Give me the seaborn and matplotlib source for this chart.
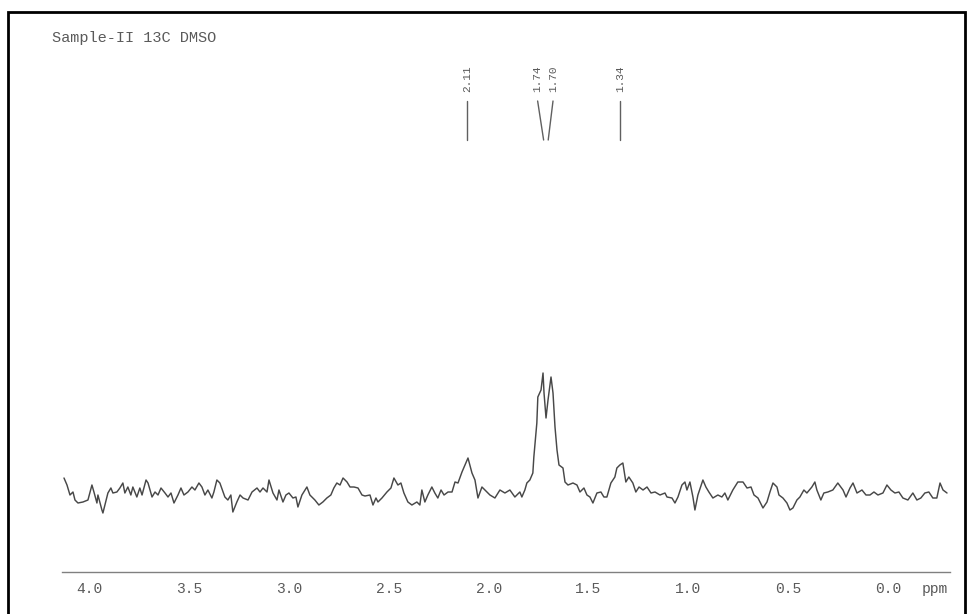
import numpy as np
import pandas as pd
import matplotlib.pyplot as plt
import seaborn as sns
from matplotlib.patches import Rectangle

# Espectro (ppm, intensidade arbitraria)
ppm = [4.128, 4.113, 4.098, 4.083, 4.073, 4.058, 4.033, 4.008, 3.988, 3.978,
       3.963, 3.958, 3.938, 3.933, 3.923, 3.908, 3.893, 3.883, 3.863, 3.848,
       3.833, 3.823, 3.808, 3.793, 3.783, 3.763, 3.748, 3.737, 3.717, 3.707,
       3.687, 3.672, 3.657, 3.642, 3.622, 3.607, 3.592, 3.577, 3.557, 3.542,
       3.527, 3.507, 3.487, 3.472, 3.452, 3.437, 3.422, 3.407, 3.387, 3.377,
       3.362, 3.347, 3.322, 3.307, 3.292, 3.282, 3.262, 3.246, 3.231, 3.206,
       3.186, 3.161, 3.146, 3.131, 3.111, 3.101, 3.081, 3.061, 3.051, 3.031,
       3.016, 3.001, 2.981, 2.966, 2.956, 2.936, 2.911, 2.896, 2.871, 2.851,
       2.831, 2.811, 2.791, 2.776, 2.761, 2.745, 2.730, 2.710, 2.695, 2.675,
       2.655, 2.635, 2.620, 2.595, 2.580, 2.565, 2.555, 2.535, 2.510, 2.490,
       2.475, 2.455, 2.440, 2.425, 2.405, 2.385, 2.360, 2.345, 2.335, 2.320,
       2.305, 2.285, 2.270, 2.255, 2.239, 2.224, 2.204, 2.184, 2.169, 2.154,
       2.134, 2.119, 2.104, 2.084, 2.069, 2.054, 2.034, 2.019, 1.994, 1.969,
       1.944, 1.919, 1.894, 1.869, 1.844, 1.834, 1.819, 1.809, 1.794, 1.779,
       1.774, 1.759, 1.754, 1.738, 1.728, 1.723, 1.713, 1.703, 1.688, 1.678,
       1.668, 1.658, 1.648, 1.628, 1.618, 1.603, 1.578, 1.558, 1.543, 1.523,
       1.508, 1.493, 1.478, 1.458, 1.438, 1.423, 1.408, 1.388, 1.368, 1.358,
       1.343, 1.328, 1.313, 1.298, 1.278, 1.263, 1.247, 1.227, 1.207, 1.187,
       1.167, 1.142, 1.117, 1.107, 1.082, 1.067, 1.052, 1.032, 1.017, 1.007,
       0.992, 0.977, 0.967, 0.952, 0.927, 0.912, 0.897, 0.877, 0.852, 0.832,
       0.817, 0.802, 0.777, 0.752, 0.726, 0.706, 0.686, 0.671, 0.651, 0.626,
       0.606, 0.591, 0.576, 0.556, 0.546, 0.526, 0.506, 0.491, 0.476, 0.456,
       0.441, 0.421, 0.406, 0.381, 0.366, 0.356, 0.336, 0.321, 0.301, 0.276,
       0.251, 0.225, 0.210, 0.190, 0.175, 0.155, 0.130, 0.110, 0.090, 0.070,
       0.050, 0.025, 0.005, -0.015, -0.035, -0.055, -0.075, -0.100, -0.125, -0.145,
       -0.165, -0.185, -0.205, -0.225, -0.245, -0.261, -0.276, -0.296]

intensidade = [22, 15, 5, 8, 0, -3, -2, 0, 15, 8,
               -3, 5, -10, -13, -5, 7, 12, 7, 8, 12,
               17, 7, 13, 5, 13, 3, 12, 5, 20, 17,
               3, 8, 5, 12, 7, 3, 7, -3, 5, 12,
               5, 8, 13, 10, 17, 13, 5, 10, 2, 8,
               20, 17, 3, 0, 5, -12, -2, 5, 2, 0,
               8, 12, 8, 12, 8, 20, 7, 0, 10, -2,
               5, 7, 2, 3, -7, 5, 13, 5, 0, -5,
               -2, 2, 5, 12, 17, 15, 22, 18, 13, 13,
               12, 5, 4, 5, -5, 2, -2, 2, 8, 12,
               22, 15, 17, 7, -2, -5, -2, -5, 10, -2,
               5, 13, 7, 2, 10, 5, 8, 8, 18, 17,
               28, 35, 42, 27, 20, 2, 13, 10, 5, 2,
               10, 7, 10, 3, 8, 3, 10, 17, 20, 27,
               43, 77, 103, 110, 127, 107, 82, 100, 123, 107,
               73, 50, 35, 32, 18, 15, 17, 15, 8, 12,
               5, 3, -3, 7, 8, 3, 3, 17, 23, 32,
               35, 37, 18, 23, 17, 8, 13, 10, 13, 7,
               8, 5, 7, 3, 2, -3, 3, 15, 18, 10,
               18, 3, -10, 5, 20, 13, 8, 2, 5, 3,
               7, 0, 10, 18, 18, 12, 13, 5, 2, -8,
               -2, 8, 17, 13, 5, 2, -3, -10, -8, 0,
               3, 10, 7, 13, 18, 10, 0, 7, 8, 10,
               17, 10, 3, 12, 17, 7, 10, 5, 5, 8,
               5, 7, 15, 10, 7, 8, 2, 0, 7, 0,
               2, 7, 8, 2, 2, 17, 10, 7]

# Marcacao dos picos
picos_rotulos = ["2.11", "1.74", "1.70", "1.34"]
picos_rotulo_pos = [2.11, 1.755, 1.678, 1.34]
picos_base_pos = [2.11, 1.725, 1.702, 1.34]

ticks_maiores = [4.0, 3.5, 3.0, 2.5, 2.0, 1.5, 1.0, 0.5, 0.0]

df = pd.DataFrame({"ppm": ppm, "intensidade": intensidade})

sns.set_style("white")
mono = "Liberation Mono"
cinza = "#5a5a5a"

fig = plt.figure(figsize=(9.67, 6.14), dpi=100)
ax = fig.add_axes([62 / 967, 42 / 614, 888 / 967, 552 / 614])

sns.lineplot(data=df, x="ppm", y="intensidade", ax=ax, sort=False,
             estimator=None, color="#484848", linewidth=1.05)

ax.set_xlim(4.138, -0.311)
ax.set_ylim(-72, 480)

# Eixo inferior no estilo do espectro
for lado in ["top", "left", "right"]:
    ax.spines[lado].set_visible(False)
ax.spines["bottom"].set_color("#808080")
ax.spines["bottom"].set_linewidth(1.0)
ax.set_yticks([])
ax.set_xticks(ticks_maiores)
ax.set_xticklabels([f"{t:.1f}" for t in ticks_maiores])
ax.set_xticks(np.arange(-0.3, 4.15, 0.1), minor=True)
ax.tick_params(axis="x", which="major", direction="inout", length=7, width=1,
               color="#808080", labelcolor=cinza, labelsize=10.5, pad=4)
ax.tick_params(axis="x", which="minor", direction="inout", length=3.5, width=0.9,
               color="#808080")
for lbl in ax.get_xticklabels():
    lbl.set_family(mono)
ax.set_xlabel("")
ax.set_ylabel("")

ax.text(935 / 967, 25 / 614, "ppm", transform=fig.transFigure, ha="center",
        va="center", fontsize=10.5, family=mono, color=cinza)

# Rotulos dos picos
for rot, pos, base in zip(picos_rotulos, picos_rotulo_pos, picos_base_pos):
    ax.text(pos, 408, rot, rotation=90, ha="center", va="bottom",
            fontsize=8, family=mono, color=cinza)
    ax.plot([pos, base], [399, 360], color="#606060", linewidth=1.0)

fig.text(52 / 967, 1 - 38 / 614, "Sample-II 13C DMSO", ha="left", va="center",
         fontsize=11, family=mono, color=cinza)

# Moldura
fig.patches.append(Rectangle((8 / 967, -0.2), 957 / 967, 1.2 - 12 / 614,
                             transform=fig.transFigure, fill=False,
                             edgecolor="black", linewidth=2))

fig.savefig("out.png", dpi=100)
